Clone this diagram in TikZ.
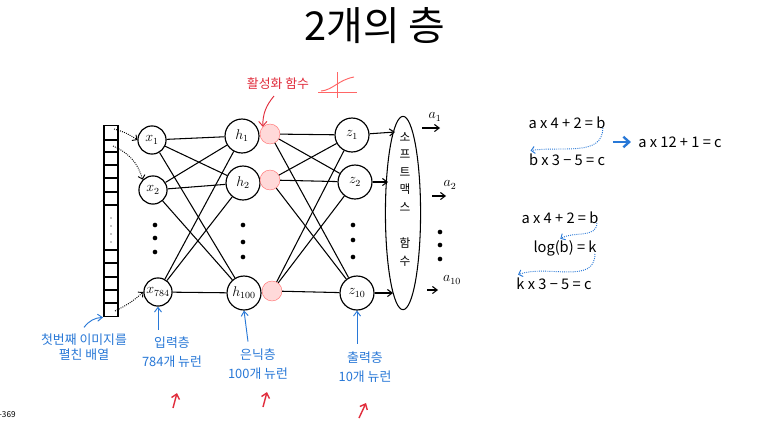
\documentclass[tikz,border=0pt]{standalone}
\usepackage{fontspec}
\setmainfont{Noto Sans CJK KR}
\usepackage{xcolor}
\definecolor{noteBlue}{RGB}{40,120,215}
\definecolor{noteRed}{RGB}{225,45,60}
\colorlet{actFill}{red!15}
\colorlet{actLine}{red!55}
\usetikzlibrary{arrows.meta, positioning, calc, shapes.geometric}
\tikzset{
	neuron/.style={draw, circle, line width=1pt, minimum size=24pt, inner sep=0pt, font=\large},
	bigneuron/.style={neuron, minimum size=29pt},
	actnode/.style={draw=actLine, circle, fill=actFill, minimum size=17pt, inner sep=0pt},
	link/.style={line width=0.9pt},
	flowarr/.style={->, line width=0.9pt, >={Straight Barb[length=4pt, width=6pt]}},
	dotarr/.style={->, densely dotted, thick, >={Straight Barb[length=3pt]}},
	bluenote/.style={text=noteBlue, font=\fontsize{11}{13}\selectfont, align=center},
	bluearr/.style={->, thick, noteBlue, >={Straight Barb[length=4pt, width=6pt]}},
	redarr/.style={->, very thick, noteRed, >={Straight Barb[length=4pt, width=7pt]}},
	bluedots/.style={->, densely dotted, thick, noteBlue, >={Straight Barb[length=3pt]}},
	eqn/.style={font=\fontsize{12.5}{14}\selectfont, inner sep=1pt},
	vdot/.style={circle, fill, inner sep=0pt, minimum size=4pt},
}

\begin{document}
\begin{tikzpicture}[x=0.03cm, y=-0.03cm]
		\useasboundingbox[fill=white] (0,0) rectangle (766,421);

		% Title
		\node[font=\fontsize{34}{36}\selectfont] (title) at (375,26) {2개의 층};

		% Flattened image
		\node[draw, line width=1.6pt, minimum width=12pt, minimum height=163pt, inner sep=0pt] (strip) at (111,221) {};
		\foreach \y in {140,152,165,178,192,205,250,263,277,290,303}
			\draw[line width=1pt] (strip.west |- 0,\y) -- (strip.east |- 0,\y);
		\foreach \y in {218,226,234,242}
			\fill (111,\y) circle (0.6pt);
		\coordinate (c1) at (114,129);
		\coordinate (c2) at (113,146);
		\coordinate (c3) at (115,311);

		% Input layer
		\node[neuron] (x1) at (152,140) {$x_1$};
		\node[neuron] (x2) at (153,190) {$x_2$};
		\node[neuron] (x3) at (158,292) {$x_{784}$};
		\foreach \y [count=\i] in {225,238,252}
			\node[vdot] (xd\i) at (155,\y) {};

		\draw[dotarr] (c1) to[bend left=10] (x1.west);
		\draw[dotarr] (c2) to[bend left=25] (x2.north west);
		\draw[dotarr] (c3) to[bend right=8] (x3.west);

		% Hidden layer
		\node[bigneuron] (h1) at (242,136) {$h_1$};
		\node[bigneuron] (h2) at (243,183) {$h_2$};
		\node[bigneuron] (h3) at (244,293) {$h_{100}$};
		\node[actnode] (p1) at (270,134) {};
		\node[actnode] (p2) at (270,180) {};
		\node[actnode] (p3) at (272,291) {};
		\foreach \y [count=\i] in {225,242,257}
			\node[vdot] (hd\i) at (243,\y) {};

		% Output layer
		\node[bigneuron] (z1) at (352,135) {$z_1$};
		\node[bigneuron] (z2) at (355,182) {$z_2$};
		\node[bigneuron] (z3) at (357,293) {$z_{10}$};
		\foreach \y [count=\i] in {225,240,257}
			\node[vdot] (zd\i) at (353,\y) {};

		% Connections
		\foreach \a in {x1,x2,x3}
			\foreach \b in {h1,h2,h3}
				\draw[link] (\a) -- (\b);
		\foreach \a in {p1,p2,p3}
			\foreach \b in {z1,z2,z3}
				\draw[link] (\a) -- (\b);

		% Softmax
		\node[draw, line width=0.9pt, ellipse, minimum width=30pt, minimum height=165pt, inner sep=0pt] (soft) at (403,213) {};
		\node[font=\fontsize{10}{15}\selectfont, align=center, inner sep=0pt, anchor=north] (softlbl) at (405,132) {소\\프\\트\\맥\\스\\[16pt]함\\수};
		\coordinate (s1) at (395,132);
		\coordinate (s2) at (388,182);
		\coordinate (s3) at (393,293);
		\draw[flowarr] (z1) -- (s1);
		\draw[flowarr] (z2) -- (s2);
		\draw[flowarr] (z3) -- (s3);

		\coordinate (o1) at (422,128);
		\coordinate (o2) at (432,196);
		\coordinate (o3) at (427,290);
		\node[font=\large] (a1) at (435,117) {$a_1$};
		\node[font=\large] (a2) at (450,185) {$a_2$};
		\node[font=\large] (a3) at (452,280) {$a_{10}$};
		\draw[flowarr] (o1) -- ++(18,0);
		\draw[flowarr] (o2) -- ++(14,0);
		\draw[flowarr] (o3) -- ++(11,0);
		\foreach \y [count=\i] in {232,245,259}
			\node[vdot] (ad\i) at (440,\y) {};

		% Activation function
		\node[text=noteRed, font=\fontsize{11}{13}\selectfont] (actlbl) at (278,84) {활성화 함수};
		\draw[red!60, thick] (318,92) -- (357,92);
		\draw[red!60, thick] (337,72) -- (337,98);
		\draw[red!60, thick] (321,91) .. controls (333,90) and (338,80) .. (354,77);
		\draw[redarr, thick] (actlbl.south) ++(-4,2) to[bend right=20] (p1.north west);

		% Layer notes
		\node[bluenote] (n0) at (84,347) {첫번째 이미지를\\펼친 배열};
		\node[bluenote] (n1) at (172,352) {입력층\\[3pt]784개 뉴런};
		\node[bluenote] (n2) at (258,364) {은닉층\\[3pt]100개 뉴런};
		\node[bluenote] (n3) at (365,367) {출력층\\[3pt]10개 뉴런};
		\draw[bluearr] (n0.north) ++(0,-2) to[bend left=25] (strip.south west);
		\draw[bluearr] (n1.north -| x3) ++(0,-3) -- (x3.south);
		\draw[bluearr] (n2.north -| h3) ++(4,-3) -- (h3.south);
		\draw[bluearr] (n3.north -| z3) ++(0,-4) -- (z3.south);

		% Red marks
		\coordinate (r1) at (173,408);
		\coordinate (r2) at (263,407);
		\coordinate (r3) at (359,418);
		\draw[redarr] (r1) -- ++(4,-15);
		\draw[redarr] (r2) -- ++(4,-15);
		\draw[redarr] (r3) -- ++(7,-15);
		\node[font=\scriptsize, anchor=west] (tag) at (-5,415) {-369};

		% Equations
		\node[eqn] (e1) at (567,123) {a x 4 + 2 = b};
		\node[eqn] (e2) at (567,160) {b x 3 − 5 = c};
		\node[eqn] (e3) at (680,142) {a x 12 + 1 = c};
		\draw[bluedots] (e1.east) ++(-4,5) to[out=-90, in=10] ([shift={(3,-2)}]e2.north west);
		\draw[->, line width=2pt, noteBlue, >={Straight Barb[length=5pt, width=9pt]}] ($(e3.west)+(-24,0)$) -- ($(e3.west)+(-6,0)$);

		\node[eqn] (e4) at (560,218) {a x 4 + 2 = b};
		\node[eqn] (e5) at (565,248) {log(b) = k};
		\node[eqn] (e6) at (554,284) {k x 3 − 5 = c};
		\draw[bluedots] (e4.east) ++(-3,5) to[out=-90, in=30] ([xshift=-4pt]e5.north);
		\draw[bluedots] (e5.east) ++(-3,6) to[out=-90, in=20] ([shift={(3,-2)}]e6.north west);
	\end{tikzpicture}
\end{document}
